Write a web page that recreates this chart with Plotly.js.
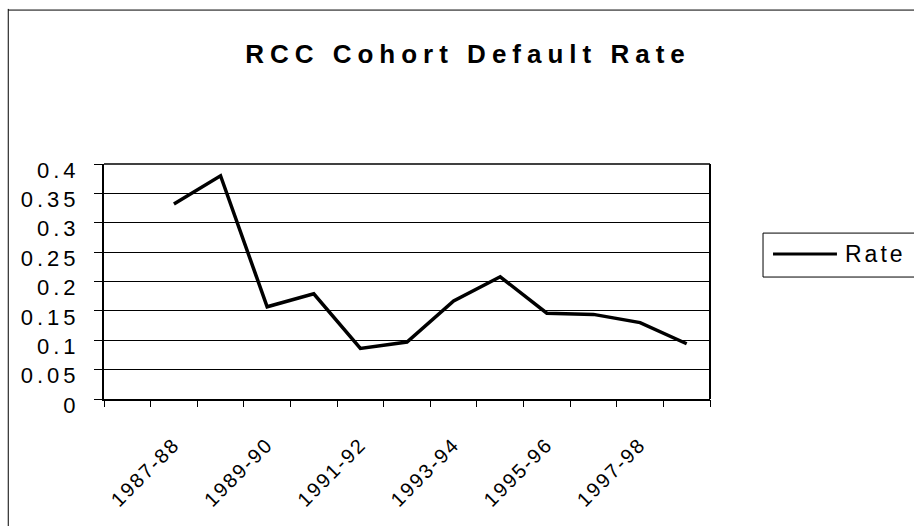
<!DOCTYPE html>
<html><head><meta charset="utf-8">
<script src="https://cdn.plot.ly/plotly-3.0.1.min.js"></script>
<style>
body{margin:0;background:#fff}
#chart{width:914px;height:526px}
.gtitle{letter-spacing:6px}
.ytick text{letter-spacing:4px}
.xtick text{letter-spacing:2px}
.annotation-text{letter-spacing:3px}
</style></head>
<body><div id="chart"></div>
<script>
const categories = ["1987-88","1988-89","1989-90","1990-91","1991-92","1992-93","1993-94","1994-95","1995-96","1996-97","1997-98","1998-99"];
const rates = [0.332,0.380,0.157,0.179,0.086,0.097,0.167,0.208,0.146,0.144,0.130,0.094];
const shownLabels = ["1987-88","1989-90","1991-92","1993-94","1995-96","1997-98"];
const yTicks = [0,0.05,0.1,0.15,0.2,0.25,0.3,0.35,0.4];
const yTickText = ["0","0.05","0.1","0.15","0.2","0.25","0.3","0.35","0.4"];
const seriesName = "Rate";

const trace = {x:categories, y:rates, type:'scatter', mode:'lines', name:seriesName,
  line:{color:'#000', width:3.5}, showlegend:false};
const boundaryTrace = {x:[], y:[], xaxis:'x2', yaxis:'y', showlegend:false, hoverinfo:'skip'};

const xmin=-1.5, xmax=categories.length-0.5;

const layout = {
  width:914, height:526,
  margin:{l:104, r:204, t:164, b:127},
  paper_bgcolor:'#fff', plot_bgcolor:'#fff',
  font:{family:'Liberation Sans, Arial, sans-serif', color:'#000'},
  showlegend:false,
  title:{text:'<b>RCC Cohort Default Rate</b>', font:{size:26, color:'#000'}, x:0.512, xanchor:'center', y:0.897, yanchor:'middle'},
  xaxis:{type:'category', categoryarray:categories, range:[xmin,xmax], tickvals:shownLabels, ticks:'', tickangle:-45,
    tickfont:{size:20}, ticklabelstandoff:24, showgrid:false, showline:true, linecolor:'#000', linewidth:2, zeroline:false},
  xaxis2:{overlaying:'x', type:'linear', range:[xmin,xmax], tickmode:'linear', tick0:xmin, dtick:1, ticks:'outside', ticklen:7, tickcolor:'#000', tickwidth:1,
    showticklabels:false, showgrid:false, showline:false, zeroline:false},
  yaxis:{range:[0,0.4], tickvals:yTicks, ticktext:yTickText, ticks:'outside', ticklen:8, tickcolor:'#000', tickwidth:1,
    tickfont:{size:22}, ticklabelstandoff:10, ticklabelshift:6, showgrid:true, gridcolor:'#000', gridwidth:1, showline:true, linecolor:'#000', linewidth:2, zeroline:false},
  shapes:[
    {type:'line', xref:'paper', yref:'paper', x0:1, x1:1, y0:0, y1:1, line:{color:'#000', width:2}},
    {type:'line', xref:'paper', yref:'paper', x0:0, x1:1, y0:1, y1:1, line:{color:'#000', width:1.5}},
    {type:'line', xref:'paper', yref:'paper', x0:-0.158, x1:-0.158, y0:-0.6, y1:1.66, line:{color:'#000', width:1}},
    {type:'line', xref:'paper', yref:'paper', x0:-0.158, x1:1.4, y0:1.655, y1:1.655, line:{color:'#000', width:1}},
    {type:'rect', xref:'paper', yref:'paper', x0:1.0875, x1:1.45, y0:0.519, y1:0.706, line:{color:'#000', width:1}, fillcolor:'#fff'},
    {type:'line', xref:'paper', yref:'paper', x0:1.104, x1:1.2095, y0:0.617, y1:0.617, line:{color:'#000', width:3}}
  ],
  annotations:[
    {text:seriesName, xref:'paper', yref:'paper', x:1.2195, y:0.615, xanchor:'left', yanchor:'middle', showarrow:false, font:{size:23, color:'#000'}}
  ]
};
Plotly.newPlot('chart',[trace, boundaryTrace],layout,{displayModeBar:false, staticPlot:true});
</script></body></html>
